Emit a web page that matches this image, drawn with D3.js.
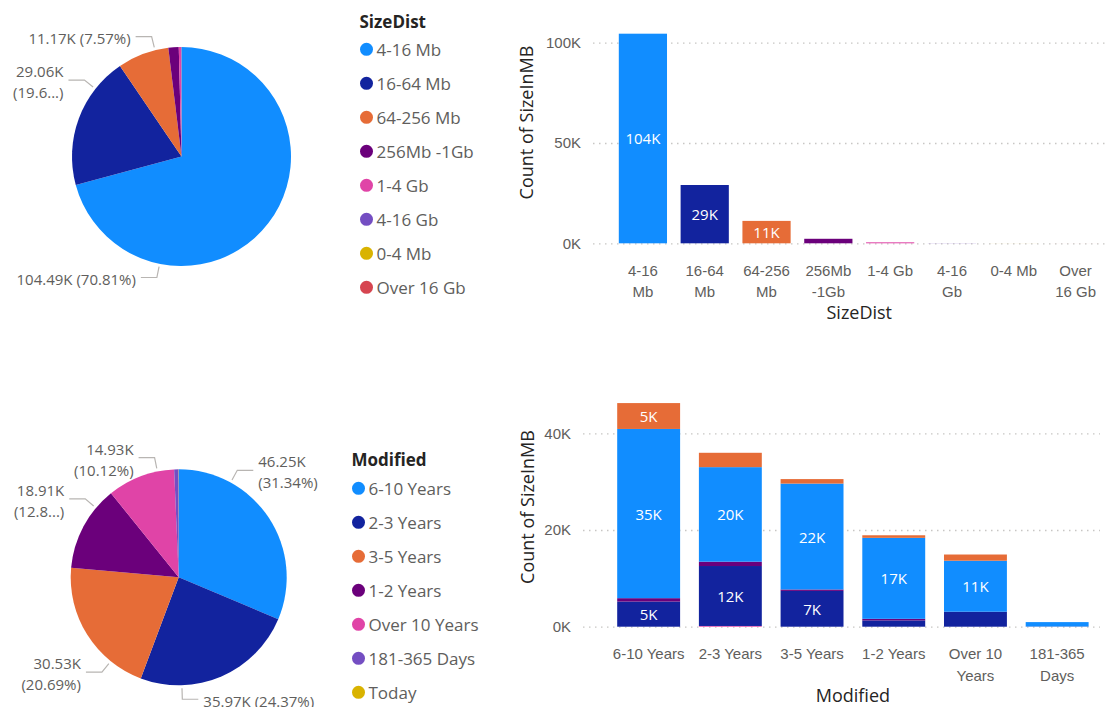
<!DOCTYPE html>
<html><head><meta charset="utf-8">
<script src="https://cdn.jsdelivr.net/npm/d3@7"></script>
<style>
body{margin:0;background:#fff;}
svg{display:block;font-family:"Open Sans","Segoe UI",sans-serif;}
</style>
</head><body><svg id="c" width="1106" height="707"></svg>
<script>
// ---------------- DATA (counts in thousands) ----------------
const sizeCats   = ["4-16 Mb","16-64 Mb","64-256 Mb","256Mb -1Gb","1-4 Gb","4-16 Gb","0-4 Mb","Over 16 Gb"];
const sizeCounts = [104.49, 29.06, 11.17, 2.25, 0.5, 0.06, 0.02, 0.01];
const modCats    = ["6-10 Years","2-3 Years","3-5 Years","1-2 Years","Over 10 Years","181-365 Days","Today"];
const modCounts  = [46.25, 35.97, 30.53, 18.91, 14.93, 0.95, 0.04];
const barModCats = ["6-10 Years","2-3 Years","3-5 Years","1-2 Years","Over 10 Years","181-365 Days"];
const stackKeys  = ["1-4 Gb","16-64 Mb","256Mb -1Gb","4-16 Mb","64-256 Mb"];
const stack_1_4Gb     = [0, 0.15, 0, 0, 0, 0];
const stack_16_64Mb   = [5.2, 12.4, 7.4, 1.3, 3.1, 0.05];
const stack_256Mb_1Gb = [0.7, 0.9, 0.3, 0.33, 0, 0];
const stack_4_16Mb    = [35.0, 19.55, 21.9, 16.75, 10.55, 0.9];
const stack_64_256Mb  = [5.35, 2.97, 0.93, 0.53, 1.28, 0];
const sizeTicks = [0, 50, 100];
const modTicks  = [0, 20, 40];

// ---------------- STYLE ----------------
const palette = ["#118DFF","#12239E","#E66C37","#6B007B","#E044A7","#744EC2","#D9B300","#D64550"];
const sizeColor = d3.scaleOrdinal().domain(sizeCats).range(palette);
const modColor  = d3.scaleOrdinal().domain(modCats).range(palette);
const GRAY = "#605E5C", DARK = "#252423";

const svg = d3.select("#c");

// ---------------- PIE ----------------
function pieChart(cfg){
  const g = svg.append("g").attr("transform", `translate(${cfg.cx},${cfg.cy})`);
  const total = d3.sum(cfg.values);
  const arcs = d3.pie().sort(null).value(d => d)(cfg.values);
  const arc = d3.arc().innerRadius(0).outerRadius(cfg.r);
  g.selectAll("path.slice").data(arcs).join("path")
    .attr("class","slice").attr("d", arc)
    .attr("fill", (d,i) => cfg.color(cfg.cats[i]));
  cfg.labels.forEach(L => {
    const v = cfg.values[L.i];
    const a = L.angle * Math.PI / 180;
    const ux = Math.sin(a), uy = -Math.cos(a);
    const side = ux < 0 ? -1 : 1;
    const p1 = [ux*(cfg.r+3), uy*(cfg.r+3)];
    const p2 = [ux*(cfg.r+14), uy*(cfg.r+14)];
    const p3 = [p2[0] + side*16, p2[1]];
    g.append("polyline").attr("points", [p1,p2,p3].map(p=>p.join(",")).join(" "))
      .attr("fill","none").attr("stroke","#B8B5B2").attr("stroke-width",1.2);
    const valStr = v.toFixed(2) + "K";
    let pct = (v/total*100).toFixed(2);
    const pctStr = L.trunc ? `(${pct.slice(0,4)}...)` : `(${pct}%)`;
    const lines = L.lines === 1 ? [valStr + " " + pctStr] : [valStr, pctStr];
    const t = g.append("text")
      .attr("x", p3[0] + side*5)
      .attr("text-anchor", side < 0 ? "end" : "start")
      .attr("font-size", 15).attr("fill", GRAY)
      .attr("dominant-baseline","central");
    const lh = 21;
    const y0 = p3[1] + 1.5 - (lines.length-1)*lh/2;
    lines.forEach((s,k) => t.append("tspan").attr("x", p3[0] + side*5).attr("y", y0 + k*lh).text(s));
  });
}

// ---------------- LEGEND ----------------
function legend(cfg){
  const g = svg.append("g");
  g.append("text").attr("x", cfg.x).attr("y", cfg.titleY).attr("dominant-baseline","central")
    .attr("font-size", 17).attr("font-weight", 700).attr("fill", DARK).text(cfg.title);
  const it = g.selectAll("g.item").data(cfg.cats).join("g").attr("class","item")
    .attr("transform", (d,i) => `translate(${cfg.x + 7},${cfg.firstY + i*cfg.step})`);
  it.append("circle").attr("r", 6.5).attr("fill", d => cfg.color(d));
  it.append("text").attr("x", 10).attr("dominant-baseline","central")
    .attr("font-size", 17).attr("fill", GRAY).text(d => d);
}

// ---------------- BAR AXES ----------------
function wrapTicks(sel, maxW, firstY, lh){
  sel.each(function(){
    const t = d3.select(this);
    const words = t.text().split(" ");
    t.text(null).attr("dy", null).attr("y", firstY).attr("dominant-baseline","central");
    let lines = [], cur = [];
    const probe = t.append("tspan");
    words.forEach(w => {
      const test = cur.concat([w]).join(" ");
      probe.text(test);
      if (probe.node().getComputedTextLength() > maxW && cur.length) { lines.push(cur.join(" ")); cur = [w]; }
      else cur.push(w);
    });
    lines.push(cur.join(" "));
    probe.remove();
    lines.forEach((s,k) => t.append("tspan").attr("x", 0).attr("y", firstY + k*lh).text(s));
  });
}

function axes(g, cfg, x, y){
  const ya = g.append("g").attr("transform", `translate(${cfg.gridX0},0)`)
    .call(d3.axisLeft(y).tickValues(cfg.ticks).tickFormat(d => d + "K")
      .tickSize(-(cfg.xEnd - cfg.gridX0)).tickPadding(cfg.gridX0 - cfg.tickRight));
  ya.select(".domain").remove();
  ya.selectAll(".tick line").attr("stroke","#C8C6C4").attr("stroke-width",1.3).attr("stroke-dasharray","1.5,4.5");
  ya.selectAll(".tick text").attr("font-size",15).attr("fill",GRAY).attr("font-family",null);
  const xa = g.append("g").attr("transform", `translate(0,${cfg.y0})`)
    .call(d3.axisBottom(x).tickSize(0));
  xa.select(".domain").remove();
  xa.selectAll(".tick text").attr("font-size",15).attr("fill",GRAY).attr("font-family",null)
    .call(wrapTicks, cfg.wrapW, cfg.tickY - cfg.y0, 21.5);
  g.append("text").attr("x", (x.range()[0]+x.range()[1])/2).attr("y", cfg.xTitleY)
    .attr("text-anchor","middle").attr("dominant-baseline","central")
    .attr("font-size",18).attr("fill",DARK).text(cfg.xTitle);
  g.append("text").attr("transform", `translate(${cfg.yTitleX},${cfg.yTitleY}) rotate(-90)`)
    .attr("text-anchor","middle").attr("dominant-baseline","central")
    .attr("font-size",18).attr("fill",DARK).text("Count of SizeInMB");
}

// ---------------- TOP BAR ----------------
function topBar(){
  const cfg = {ticks: sizeTicks, y0: 243.3, yTop: 42.7, gridX0: 593, xEnd: 1106, tickRight: 581,
    wrapW: 51, tickY: 270, xTitle: "SizeDist", xTitleY: 312, yTitleX: 526, yTitleY: 122.5};
  const g = svg.append("g");
  const x = d3.scaleBand().domain(sizeCats).range([612, 1106.5]).paddingInner(0.22).paddingOuter(0.11);
  const y = d3.scaleLinear().domain([0, d3.max(sizeTicks)]).range([cfg.y0, cfg.yTop]);
  axes(g, cfg, x, y);
  const bars = g.selectAll("g.bar").data(sizeCats).join("g").attr("class","bar");
  bars.append("rect").attr("x", d => x(d)).attr("width", x.bandwidth())
    .attr("y", (d,i) => y(sizeCounts[i])).attr("height", (d,i) => y(0) - y(sizeCounts[i]))
    .attr("fill", d => sizeColor(d));
  bars.filter((d,i) => y(0) - y(sizeCounts[i]) >= 20).append("text")
    .attr("x", d => x(d) + x.bandwidth()/2)
    .attr("y", d => { const v = sizeCounts[sizeCats.indexOf(d)]; return (y(0)+y(v))/2; })
    .attr("text-anchor","middle").attr("dominant-baseline","central")
    .attr("font-size",15).attr("fill","#fff")
    .text(d => Math.round(sizeCounts[sizeCats.indexOf(d)]) + "K");
}

// ---------------- BOTTOM STACKED BAR ----------------
function bottomBar(){
  const cfg = {ticks: modTicks, y0: 626.7, yTop: 433.3, gridX0: 583, xEnd: 1100, tickRight: 571,
    wrapW: 76, tickY: 653.3, xTitle: "Modified", xTitleY: 695, yTitleX: 527, yTitleY: 507};
  const g = svg.append("g");
  const x = d3.scaleBand().domain(barModCats).range([607.8, 1098]).paddingInner(0.23).paddingOuter(0.115);
  const y = d3.scaleLinear().domain([0, d3.max(modTicks)]).range([cfg.y0, cfg.yTop]);
  axes(g, cfg, x, y);
  const cols = [stack_1_4Gb, stack_16_64Mb, stack_256Mb_1Gb, stack_4_16Mb, stack_64_256Mb];
  const rows = barModCats.map((c,i) => { const r = {cat: c}; stackKeys.forEach((k,j) => r[k] = cols[j][i]); return r; });
  const series = d3.stack().keys(stackKeys)(rows);
  const sg = g.selectAll("g.series").data(series).join("g").attr("class","series")
    .attr("fill", s => sizeColor(s.key));
  sg.selectAll("rect").data(s => s).join("rect")
    .attr("x", d => x(d.data.cat)).attr("width", x.bandwidth())
    .attr("y", d => y(d[1])).attr("height", d => Math.max(0, y(d[0]) - y(d[1])));
  sg.selectAll("text").data(s => s.filter(d => y(d[0]) - y(d[1]) >= 20)).join("text")
    .attr("x", d => x(d.data.cat) + x.bandwidth()/2).attr("y", d => (y(d[0]) + y(d[1]))/2)
    .attr("text-anchor","middle").attr("dominant-baseline","central")
    .attr("font-size",15).attr("fill","#fff")
    .text(d => Math.round(d[1]-d[0]) + "K");
}

pieChart({cx: 181.5, cy: 156.5, r: 109.5, cats: sizeCats, values: sizeCounts, color: sizeColor,
  labels: [{i:0, angle:191.5, lines:1}, {i:1, angle:308.2, lines:2, trunc:true}, {i:2, angle:346, lines:1}]});
legend({x: 359.5, titleY: 21, firstY: 49.3, step: 34, title: "SizeDist", cats: sizeCats, color: sizeColor});
pieChart({cx: 178.7, cy: 577.3, r: 108, cats: modCats, values: modCounts, color: modColor,
  labels: [{i:0, angle:28.7, lines:2}, {i:1, angle:178.3, lines:1}, {i:2, angle:219, lines:2},
           {i:3, angle:310, lines:2, trunc:true}, {i:4, angle:348.6, lines:2}]});
legend({x: 351.5, titleY: 459, firstY: 488.3, step: 34, title: "Modified", cats: modCats, color: modColor});
topBar();
bottomBar();
</script>
</body></html>
